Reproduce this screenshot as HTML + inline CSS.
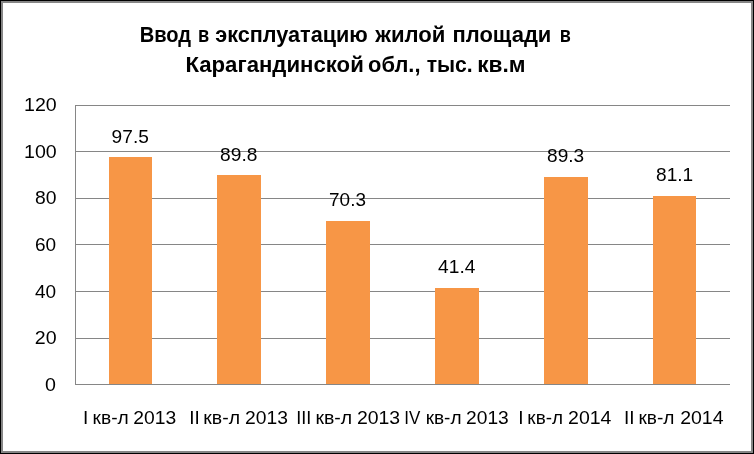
<!DOCTYPE html>
<html><head><meta charset="utf-8">
<style>
html,body{margin:0;padding:0;background:#fff;}
body{width:754px;height:454px;overflow:hidden;position:relative;}
svg{position:absolute;left:0;top:0;will-change:transform;}
text{font-family:"Liberation Sans",sans-serif;fill:#000;}
</style></head>
<body>
<svg width="754" height="454" viewBox="0 0 754 454" shape-rendering="crispEdges">
  <rect x="0" y="0" width="754" height="454" fill="#000"/>
  <rect x="1" y="1" width="752" height="452" fill="#868686"/>
  <rect x="3" y="3" width="748" height="448" fill="#fff"/>

  <!-- gridlines -->
  <g fill="#868686">
    <rect x="75" y="105" width="655" height="1"/>
    <rect x="75" y="151" width="655" height="1"/>
    <rect x="75" y="198" width="655" height="1"/>
    <rect x="75" y="244" width="655" height="1"/>
    <rect x="75" y="291" width="655" height="1"/>
    <rect x="75" y="338" width="655" height="1"/>
    <rect x="75" y="384" width="655" height="1"/>
    <rect x="75" y="105" width="1" height="280"/>
  </g>

  <!-- bars -->
  <g fill="#F79646">
    <rect x="109" y="157" width="43" height="227"/>
    <rect x="217" y="175" width="44" height="209"/>
    <rect x="326" y="221" width="44" height="163"/>
    <rect x="435" y="288" width="44" height="96"/>
    <rect x="544" y="177" width="44" height="207"/>
    <rect x="653" y="196" width="43" height="188"/>
  </g>
</svg>
<svg width="754" height="454" viewBox="0 0 754 454">
  <!-- title -->
  <g font-weight="bold" font-size="22.5">
    <text x="139.66" y="41.5" textLength="51.4" lengthAdjust="spacingAndGlyphs">Ввод</text>
    <text x="197.89" y="41.5" textLength="11.2" lengthAdjust="spacingAndGlyphs">в</text>
    <text x="215.28" y="41.5" textLength="152.58" lengthAdjust="spacingAndGlyphs">эксплуатацию</text>
    <text x="375.3" y="41.5" textLength="70.18" lengthAdjust="spacingAndGlyphs">жилой</text>
    <text x="452.54" y="41.5" textLength="98.8" lengthAdjust="spacingAndGlyphs">площади</text>
    <text x="559.8" y="41.5" textLength="11.08" lengthAdjust="spacingAndGlyphs">в</text>
    <text x="185.42" y="71.7" textLength="178.37" lengthAdjust="spacingAndGlyphs">Карагандинской</text>
    <text x="368.03" y="71.7" textLength="52.47" lengthAdjust="spacingAndGlyphs">обл.,</text>
    <text x="426.7" y="71.7" textLength="46.01" lengthAdjust="spacingAndGlyphs">тыс.</text>
    <text x="477.29" y="71.7" textLength="48.32" lengthAdjust="spacingAndGlyphs">кв.м</text>
  </g>
  <!-- y axis labels -->
  <g font-size="19">
    <text x="24.05" y="111" textLength="32.67" lengthAdjust="spacingAndGlyphs">120</text>
    <text x="24.05" y="158" textLength="32.67" lengthAdjust="spacingAndGlyphs">100</text>
    <text x="35.04" y="204" textLength="21.52" lengthAdjust="spacingAndGlyphs">80</text>
    <text x="34.9" y="251" textLength="21.14" lengthAdjust="spacingAndGlyphs">60</text>
    <text x="34.9" y="298" textLength="21.14" lengthAdjust="spacingAndGlyphs">40</text>
    <text x="34.77" y="344" textLength="21.79" lengthAdjust="spacingAndGlyphs">20</text>
    <text x="44.92" y="391" textLength="10.93" lengthAdjust="spacingAndGlyphs">0</text>
  </g>
  <!-- data labels -->
  <g font-size="19">
    <text x="111.64" y="143" textLength="37.19" lengthAdjust="spacingAndGlyphs">97.5</text>
    <text x="220.14" y="161" textLength="37.3" lengthAdjust="spacingAndGlyphs">89.8</text>
    <text x="329.1" y="206" textLength="36.83" lengthAdjust="spacingAndGlyphs">70.3</text>
    <text x="438.1" y="273" textLength="37.29" lengthAdjust="spacingAndGlyphs">41.4</text>
    <text x="547.05" y="162" textLength="37.09" lengthAdjust="spacingAndGlyphs">89.3</text>
    <text x="656.05" y="181" textLength="37.14" lengthAdjust="spacingAndGlyphs">81.1</text>
  </g>
  <!-- category labels -->
  <g font-size="19">
    <text x="83.07" y="424" textLength="5.28" lengthAdjust="spacingAndGlyphs">I</text>
    <text x="92.54" y="424" textLength="36.21" lengthAdjust="spacingAndGlyphs">кв-л</text>
    <text x="133.29" y="424" textLength="42.91" lengthAdjust="spacingAndGlyphs">2013</text>
    <text x="189.35" y="424" textLength="10.56" lengthAdjust="spacingAndGlyphs">II</text>
    <text x="203.32" y="424" textLength="36.74" lengthAdjust="spacingAndGlyphs">кв-л</text>
    <text x="245.09" y="424" textLength="42.91" lengthAdjust="spacingAndGlyphs">2013</text>
    <text x="296.23" y="424" textLength="15.13" lengthAdjust="spacingAndGlyphs">III</text>
    <text x="315.42" y="424" textLength="36.74" lengthAdjust="spacingAndGlyphs">кв-л</text>
    <text x="356.98" y="424" textLength="43.22" lengthAdjust="spacingAndGlyphs">2013</text>
    <text x="404.34" y="424" textLength="16.05" lengthAdjust="spacingAndGlyphs">IV</text>
    <text x="425.65" y="424" textLength="35.88" lengthAdjust="spacingAndGlyphs">кв-л</text>
    <text x="466.09" y="424" textLength="42.7" lengthAdjust="spacingAndGlyphs">2013</text>
    <text x="518.23" y="424" textLength="5.28" lengthAdjust="spacingAndGlyphs">I</text>
    <text x="527.36" y="424" textLength="35.67" lengthAdjust="spacingAndGlyphs">кв-л</text>
    <text x="568.07" y="424" textLength="43.37" lengthAdjust="spacingAndGlyphs">2014</text>
    <text x="623.95" y="424" textLength="10.56" lengthAdjust="spacingAndGlyphs">II</text>
    <text x="638.44" y="424" textLength="35.99" lengthAdjust="spacingAndGlyphs">кв-л</text>
    <text x="680.17" y="424" textLength="43.37" lengthAdjust="spacingAndGlyphs">2014</text>
  </g>
</svg>
</body></html>
